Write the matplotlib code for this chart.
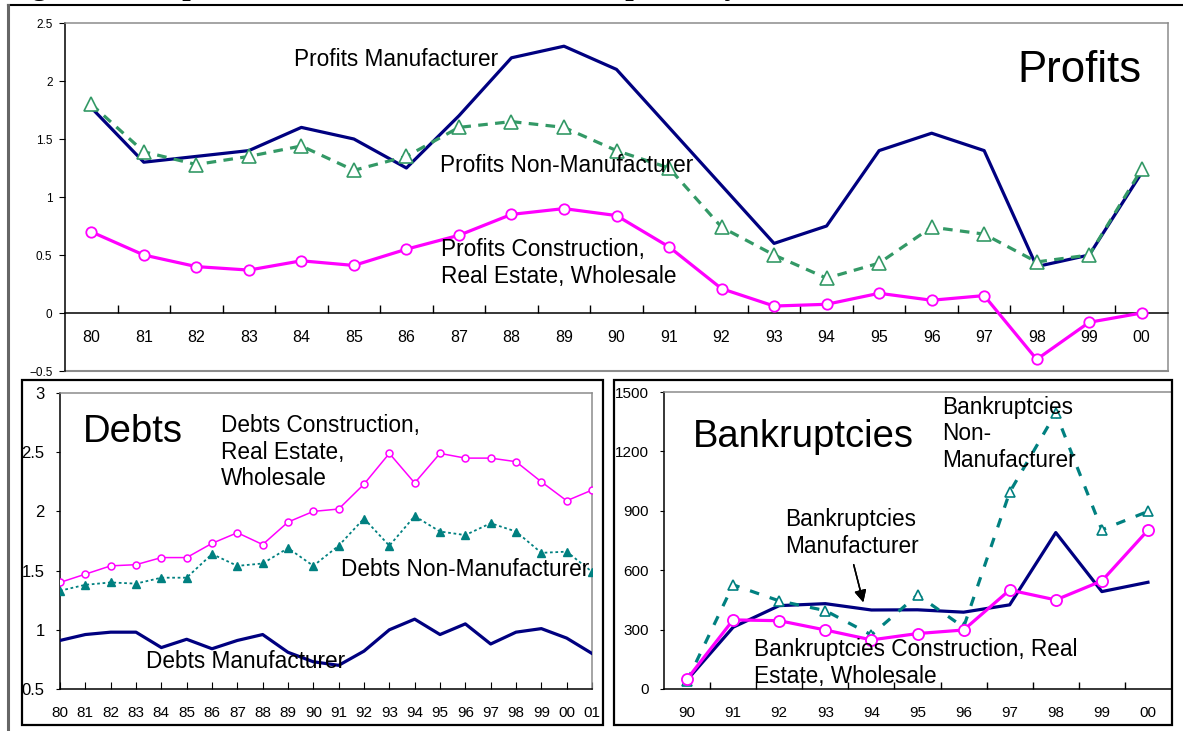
"""Profits, debts and bankruptcies by sector (three-panel figure)."""

import matplotlib.pyplot as plt
from matplotlib.lines import Line2D
from matplotlib.patches import Rectangle

# ---- data -------------------------------------------------------------
profit_years = ["80", "81", "82", "83", "84", "85", "86", "87", "88", "89", "90",
                "91", "92", "93", "94", "95", "96", "97", "98", "99", "00"]
profit_mfr = [1.77, 1.30, 1.35, 1.40, 1.60, 1.50, 1.25, 1.70, 2.20, 2.30, 2.10,
              1.60, 1.10, 0.60, 0.75, 1.40, 1.55, 1.40, 0.40, 0.50, 1.21]
profit_nonmfr = [1.80, 1.39, 1.28, 1.35, 1.44, 1.23, 1.35, 1.60, 1.65, 1.60, 1.40,
                 1.25, 0.74, 0.50, 0.30, 0.43, 0.74, 0.68, 0.44, 0.50, 1.24]
profit_constr = [0.70, 0.50, 0.40, 0.37, 0.45, 0.41, 0.55, 0.67, 0.85, 0.90, 0.84,
                 0.57, 0.21, 0.06, 0.075, 0.17, 0.11, 0.15, -0.40, -0.08, 0.00]
profit_yticks = [-0.5, 0, 0.5, 1, 1.5, 2, 2.5]
profit_yticklabels = ["\u22120.5", "0", "0.5", "1", "1.5", "2", "2.5"]

debt_years = ["80", "81", "82", "83", "84", "85", "86", "87", "88", "89", "90",
              "91", "92", "93", "94", "95", "96", "97", "98", "99", "00", "01"]
debt_mfr = [0.91, 0.96, 0.98, 0.98, 0.85, 0.92, 0.84, 0.91, 0.96, 0.81, 0.73,
            0.70, 0.82, 1.00, 1.09, 0.96, 1.05, 0.88, 0.98, 1.01, 0.93, 0.80]
debt_constr = [1.40, 1.47, 1.54, 1.55, 1.61, 1.61, 1.73, 1.82, 1.72, 1.91, 2.00,
               2.02, 2.23, 2.49, 2.24, 2.49, 2.45, 2.45, 2.42, 2.25, 2.09, 2.18]
debt_nonmfr = [1.33, 1.38, 1.40, 1.39, 1.44, 1.44, 1.64, 1.54, 1.56, 1.69, 1.54,
               1.71, 1.94, 1.71, 1.96, 1.83, 1.80, 1.90, 1.83, 1.65, 1.66, 1.49]
debt_yticks = [0.5, 1, 1.5, 2, 2.5, 3]
debt_yticklabels = ["0.5", "1", "1.5", "2", "2.5", "3"]

bankr_years = ["90", "91", "92", "93", "94", "95", "96", "97", "98", "99", "00"]
bankr_mfr = [45, 312, 421, 431, 399, 400, 388, 425, 790, 492, 539]
bankr_constr = [50, 349, 345, 298, 248, 280, 298, 500, 450, 546, 802]
bankr_nonmfr = [40, 526, 445, 396, 273, 475, 312, 994, 1394, 804, 897]
bankr_yticks = [0, 300, 600, 900, 1200, 1500]

# ---- style ------------------------------------------------------------
W, H = 1183, 731
NAVY = "#000080"
MAGENTA = "#ff00ff"
GREEN = "#339966"
TEAL = "#008080"
GRAY = "#8c8c8c"

plt.rcParams["font.family"] = ["Liberation Sans", "DejaVu Sans"]


def fx(x):
    return x / W


def fy(y):
    return 1 - y / H


def px_rect(left, top, right, bottom):
    return [left / W, 1 - bottom / H, (right - left) / W, (bottom - top) / H]


def label(x, y, s, size=16.3, **kw):
    fig.text(fx(x), fy(y), s, fontsize=size, ha="left", va="center",
             linespacing=1.22, zorder=10, **kw)


def frame_spines(ax):
    ax.spines["left"].set_color("black")
    ax.spines["bottom"].set_color("black")
    ax.spines["top"].set_color(GRAY)
    ax.spines["right"].set_color(GRAY)
    for sp in ax.spines.values():
        sp.set_linewidth(1.1)


fig = plt.figure(figsize=(W / 100, H / 100), dpi=100)

# page rules and the caption, which sits mostly above the top edge
fig.add_artist(Line2D([fx(8), 1], [fy(5), fy(5)], color="black", lw=1.5))
fig.add_artist(Line2D([fx(8), fx(8)], [0, fy(5)], color="#666666", lw=2.2))
fig.text(fx(5), fy(-6), "Figure 5: Corporate Profits, Debts, and Bankruptcies by Sector",
         family=["Liberation Serif", "DejaVu Serif"], weight="bold", fontsize=22,
         va="baseline", ha="left")

# ---- top panel: profits -----------------------------------------------
ax = fig.add_axes(px_rect(65, 23, 1168, 371))
xs = range(len(profit_years))
ax.plot(xs, profit_mfr, color=NAVY, lw=2.3, zorder=3)
ax.plot(xs, profit_nonmfr, color=GREEN, lw=2.3, ls=(0, (3, 2.3)), marker="^", ms=10,
        mfc="white", mec=GREEN, mew=1.2, zorder=4)
ax.plot(xs, profit_constr, color=MAGENTA, lw=2.3, marker="o", ms=7.5,
        mfc="white", mec=MAGENTA, mew=1.3, zorder=5)
ax.set_xlim(-0.5, len(profit_years) - 0.5)
ax.set_ylim(-0.5, 2.5)
frame_spines(ax)
ax.spines["bottom"].set_position(("data", 0))
ax.axhline(-0.5, color=GRAY, lw=1.5, clip_on=False)
ax.set_yticks(profit_yticks, profit_yticklabels)
ax.set_xticks(list(xs), profit_years)
ax.set_xticks([i + 0.5 for i in range(len(profit_years) - 1)], minor=True)
ax.tick_params(axis="x", which="major", length=0, pad=12, labelsize=11.5)
ax.tick_params(axis="x", which="minor", direction="in", length=6, width=1)
ax.tick_params(axis="y", direction="out", length=4, pad=5, labelsize=8.5)

label(1017, 70, "Profits", size=31.5)
label(294, 59, "Profits Manufacturer")
label(440, 166, "Profits Non-Manufacturer")
label(441, 263, "Profits Construction,\nReal Estate, Wholesale")

# ---- bottom left: debts -----------------------------------------------
fig.add_artist(Rectangle((fx(22), fy(725)), (603 - 22) / W, (725 - 380) / H,
                         transform=fig.transFigure, fill=False, ec="black", lw=1.6))
ax2 = fig.add_axes(px_rect(60, 393, 592, 689))
xs = range(len(debt_years))
ax2.plot(xs, debt_mfr, color=NAVY, lw=2.3, zorder=3)
ax2.plot(xs, debt_nonmfr, color=TEAL, lw=1.3, ls=(0, (1.5, 1.5)), marker="^", ms=5.5,
         mfc=TEAL, mec=TEAL, zorder=4)
ax2.plot(xs, debt_constr, color=MAGENTA, lw=1.1, marker="o", ms=5,
         mfc="white", mec=MAGENTA, mew=1.1, zorder=5)
ax2.set_xlim(0, len(debt_years) - 1)
ax2.set_ylim(0.5, 3)
frame_spines(ax2)
ax2.set_yticks(debt_yticks, debt_yticklabels)
ax2.set_xticks(list(xs), debt_years)
ax2.tick_params(axis="x", direction="in", length=5, pad=12, labelsize=11)
ax2.tick_params(axis="y", direction="out", length=3, pad=8, labelsize=12)

label(83, 432, "Debts", size=27.5)
label(221, 452, "Debts Construction,\nReal Estate,\nWholesale")
label(341, 570, "Debts Non-Manufacturer")
label(146, 661, "Debts Manufacturer")

# ---- bottom right: bankruptcies ---------------------------------------
fig.add_artist(Rectangle((fx(614), fy(725)), (1172 - 614) / W, (725 - 380) / H,
                         transform=fig.transFigure, fill=False, ec="black", lw=1.6))
ax3 = fig.add_axes(px_rect(664, 392, 1171, 689))
xs = range(len(bankr_years))
ax3.plot(xs, bankr_mfr, color=NAVY, lw=2.3, zorder=3)
ax3.plot(xs, bankr_nonmfr, color=TEAL, lw=2.3, ls=(0, (3, 3.5)), marker="^", ms=7,
         mfc="white", mec=TEAL, mew=1.2, zorder=4)
ax3.plot(xs, bankr_constr, color=MAGENTA, lw=2.3, marker="o", ms=8,
         mfc="white", mec=MAGENTA, mew=1.3, zorder=5)
ax3.set_xlim(-0.5, len(bankr_years) - 0.5)
ax3.set_ylim(0, 1500)
frame_spines(ax3)
ax3.spines["right"].set_visible(False)
ax3.set_yticks(bankr_yticks, [str(v) for v in bankr_yticks])
ax3.set_xticks(list(xs), bankr_years)
ax3.set_xticks([i + 0.5 for i in range(len(bankr_years) - 1)], minor=True)
ax3.tick_params(axis="x", which="major", length=0, pad=12, labelsize=11)
ax3.tick_params(axis="x", which="minor", direction="in", length=5, width=1)
ax3.tick_params(axis="y", direction="out", length=3, pad=8, labelsize=11)

label(693, 437, "Bankruptcies", size=27.5)
label(942, 434, "Bankruptcies\nNon-\nManufacturer")
label(785, 533, "Bankruptcies\nManufacturer")
label(754, 663, "Bankruptcies Construction, Real\nEstate, Wholesale")
fig.add_artist(plt.annotate(
    "", xy=(fx(864), fy(605)), xytext=(fx(853), fy(562)),
    xycoords="figure fraction", textcoords="figure fraction",
    arrowprops=dict(arrowstyle="-|>", color="black", lw=1.1, mutation_scale=18)))

fig.savefig("out.png", dpi=100)
